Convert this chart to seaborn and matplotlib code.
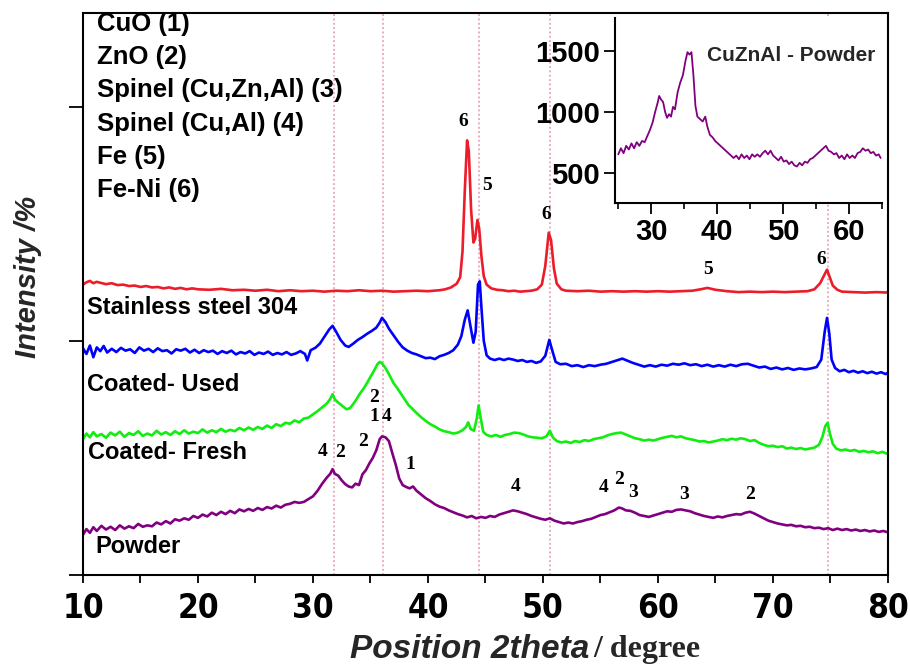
import numpy as np
import pandas as pd
import matplotlib
matplotlib.use("Agg")
import matplotlib.pyplot as plt
from matplotlib import font_manager
from matplotlib.ticker import MultipleLocator
import seaborn as sns

# ---------------------------------------------------------------- data
# Stainless steel 304 (stacked, intensity in %)
steel_x = [10.0, 10.3, 10.6, 10.9, 11.2, 11.5, 12.0, 12.5, 13.0, 13.5, 14.0, 14.5, 15.0, 15.5,
           16.0, 16.5, 17.0, 17.5, 18.0, 18.5, 19.0, 19.5, 20.0, 21, 22, 23, 24, 25, 26, 27, 28,
           29, 30, 31, 32, 33, 34, 35, 36, 37, 38, 39, 40, 41, 41.5, 42.0, 42.5, 42.8, 43.0,
           43.2, 43.4, 43.55, 43.75, 43.95, 44.1, 44.3, 44.45, 44.65, 44.85, 45.1, 45.5, 46.0,
           46.5, 47.0, 47.5, 48.0, 48.5, 49.0, 49.5, 49.9, 50.2, 50.5, 50.7, 50.95, 51.2, 51.6,
           52, 53, 54, 55, 56, 57, 58, 59, 60, 61, 62, 63, 63.7, 64.3, 65.0, 66, 67, 68, 69, 70,
           71, 72, 73, 73.6, 74.1, 74.45, 74.7, 74.95, 75.2, 75.6, 76, 77, 78, 79, 80]
steel_y = [62.0, 62.5, 62.8, 62.3, 62.6, 62.4, 62.1, 62.3, 61.9, 62.0, 61.7, 61.8, 61.5, 61.7,
           61.4, 61.5, 61.2, 61.4, 61.1, 61.3, 61.0, 61.2, 61.0, 60.9, 61.1, 60.8, 60.9, 60.7,
           60.9, 60.6, 60.8, 60.6, 60.7, 60.5, 60.7, 60.6, 60.8, 60.6, 60.7, 60.5, 60.6, 60.7,
           60.6, 60.8, 61.0, 61.4, 62.2, 63.6, 69.0, 82.0, 92.8, 90.5, 78.0, 71.0, 71.8, 75.8,
           74.0, 68.0, 63.8, 62.0, 61.2, 60.9, 60.8, 60.6, 60.7, 60.5, 60.6, 60.7, 61.0, 62.0,
           66.0, 73.1, 71.5, 65.5, 62.2, 61.0, 60.7, 60.6, 60.7, 60.5, 60.6, 60.5, 60.6, 60.5,
           60.6, 60.5, 60.6, 60.7, 61.0, 61.3, 60.9, 60.6, 60.4, 60.5, 60.4, 60.5, 60.4, 60.5,
           60.6, 61.0, 62.3, 64.0, 65.2, 63.5, 61.8, 60.9, 60.5, 60.4, 60.3, 60.4, 60.3]

# Coated - Used
used_x = [10.0, 10.3, 10.6, 10.9, 11.2, 11.5, 11.8, 12.1, 12.5, 12.9, 13.3, 13.7, 14.1, 14.5,
          14.9, 15.3, 15.7, 16.1, 16.5, 16.9, 17.3, 17.7, 18.1, 18.5, 18.9, 19.3, 19.7, 20.1,
          20.5, 20.9, 21.3, 21.7, 22.1, 22.5, 22.9, 23.3, 23.7, 24.1, 24.5, 24.9, 25.3, 25.7,
          26.1, 26.5, 26.9, 27.3, 27.7, 28.1, 28.5, 28.9, 29.3, 29.5, 29.8, 30.2, 30.6, 31.0,
          31.4, 31.7, 32.0, 32.4, 32.8, 33.1, 33.5, 33.9, 34.3, 34.7, 35.1, 35.5, 35.8, 36.0,
          36.3, 36.6, 37.0, 37.4, 37.8, 38.2, 38.6, 39.0, 39.4, 39.8, 40.2, 40.6, 41.0, 41.4,
          41.8, 42.2, 42.6, 42.9, 43.2, 43.45, 43.7, 43.95, 44.15, 44.35, 44.5, 44.65, 44.85,
          45.1, 45.4, 45.8, 46.2, 46.6, 47.0, 47.4, 47.8, 48.2, 48.6, 49.0, 49.4, 49.8, 50.2,
          50.55, 50.8, 51.1, 51.5, 52.0, 52.5, 53.0, 53.5, 54.0, 54.5, 55.0, 55.5, 56.0, 56.5,
          56.9, 57.3, 57.8, 58.3, 58.8, 59.3, 59.8, 60.3, 60.8, 61.3, 61.8, 62.3, 62.8, 63.3,
          63.8, 64.3, 64.8, 65.3, 65.8, 66.3, 66.8, 67.3, 67.8, 68.3, 68.8, 69.3, 69.8, 70.3,
          70.8, 71.3, 71.8, 72.3, 72.8, 73.3, 73.8, 74.2, 74.5, 74.7, 74.9, 75.1, 75.4, 75.8,
          76.2, 76.6, 77.0, 77.4, 77.8, 78.2, 78.6, 79.0, 79.4, 79.8, 80.0]
used_y = [48.4, 47.2, 49.0, 46.5, 48.6, 47.8, 48.9, 47.5, 48.3, 47.6, 48.5, 47.9, 48.2, 47.4,
          48.6, 47.9, 48.3, 47.6, 48.4, 47.8, 48.0, 47.3, 48.2, 47.9, 48.3, 47.5, 48.1, 47.4,
          48.0, 47.6, 47.9, 47.2, 47.8, 47.4, 47.9, 47.1, 47.6, 47.3, 47.8, 47.0, 47.5, 47.2,
          47.7, 47.0, 47.4, 47.1, 47.6, 47.0, 47.3, 47.8, 47.2, 45.8, 48.0, 48.5, 49.4, 50.9,
          52.4, 53.2, 52.0, 50.2, 49.0, 48.7, 49.4, 50.2, 50.8, 51.5, 52.1, 52.8, 53.9, 54.9,
          54.0, 52.6, 51.2, 49.8, 48.6, 47.9, 47.4, 47.1, 46.7, 46.3, 46.4, 46.1, 46.7, 47.0,
          47.4, 48.0, 49.2, 51.0, 54.5, 56.5, 53.0, 49.6, 52.0, 62.0, 62.7, 57.0, 50.0, 46.9,
          46.2, 45.9, 46.2, 45.9, 46.2, 46.0, 45.7, 45.9, 45.5, 45.7, 45.3, 45.6, 46.8, 50.2,
          48.0, 45.5, 45.0, 45.1, 44.6, 44.8, 44.4, 44.8, 44.6, 44.9, 45.1, 45.5, 45.9, 46.2,
          45.8, 45.3, 44.9, 44.5, 44.8, 44.5, 44.9, 44.7, 45.1, 44.9, 45.2, 44.8, 45.0, 44.6,
          44.9, 44.5, 44.8, 44.5, 44.9, 44.6, 45.0, 45.1, 44.7, 44.3, 44.5, 44.0, 44.3, 43.9,
          44.2, 43.8, 44.1, 43.9, 44.1, 44.4, 46.0, 52.0, 54.9, 51.5, 46.0, 44.2, 43.5, 43.8,
          43.3, 43.6, 43.2, 43.5, 43.1, 43.4, 43.0, 43.3, 42.9, 43.2]

# Coated - Fresh
fresh_x = [10.0, 10.3, 10.6, 10.9, 11.2, 11.6, 12.0, 12.4, 12.8, 13.2, 13.6, 14.0, 14.4, 14.8,
           15.2, 15.6, 16.0, 16.4, 16.8, 17.2, 17.6, 18.0, 18.4, 18.8, 19.2, 19.6, 20.0, 20.4,
           20.8, 21.2, 21.6, 22.0, 22.4, 22.8, 23.2, 23.6, 24.0, 24.4, 24.8, 25.2, 25.6, 26.0,
           26.4, 26.8, 27.2, 27.6, 28.0, 28.4, 28.8, 29.2, 29.6, 30.0, 30.4, 30.8, 31.2, 31.5,
           31.7, 31.9, 32.2, 32.6, 32.9, 33.2, 33.5, 33.8, 34.1, 34.4, 34.7, 35.0, 35.3, 35.6,
           35.8, 36.0, 36.3, 36.6, 37.0, 37.3, 37.6, 38.0, 38.3, 38.6, 39.0, 39.4, 39.8, 40.2,
           40.6, 41.0, 41.4, 41.8, 42.2, 42.6, 43.0, 43.3, 43.5, 43.7, 44.0, 44.25, 44.4, 44.55,
           44.8, 45.1, 45.5, 45.9, 46.3, 46.7, 47.1, 47.5, 47.9, 48.3, 48.7, 49.1, 49.5, 49.9,
           50.3, 50.6, 50.85, 51.2, 51.6, 52.0, 52.4, 52.8, 53.2, 53.6, 54.0, 54.4, 54.8, 55.2,
           55.6, 56.0, 56.4, 56.8, 57.2, 57.6, 58.0, 58.4, 58.8, 59.2, 59.6, 60.0, 60.4, 60.8,
           61.2, 61.6, 62.0, 62.4, 62.8, 63.2, 63.6, 64.0, 64.4, 64.8, 65.2, 65.6, 66.0, 66.4,
           66.8, 67.2, 67.6, 68.0, 68.4, 68.8, 69.2, 69.6, 70.0, 70.4, 70.8, 71.2, 71.6, 72.0,
           72.4, 72.8, 73.2, 73.6, 74.0, 74.3, 74.55, 74.75, 74.95, 75.2, 75.5, 75.9, 76.3, 76.7,
           77.1, 77.5, 77.9, 78.3, 78.7, 79.1, 79.5, 79.9, 80.0]
fresh_y = [29.0, 30.2, 29.4, 30.5, 29.6, 30.1, 29.3, 30.4, 29.8, 30.6, 29.5, 30.3, 29.9, 30.7,
           29.7, 30.2, 29.8, 30.8, 30.0, 30.5, 29.9, 30.7, 30.1, 30.9, 30.2, 30.6, 30.3, 31.1,
           30.4, 30.9, 30.5, 31.2, 30.6, 31.0, 30.7, 31.4, 30.9, 31.5, 31.0, 31.6, 31.2, 31.9,
           31.4, 32.2, 31.8, 32.5, 32.3, 33.0, 32.6, 33.4, 33.6, 34.3, 35.0, 35.8, 36.6, 37.6,
           38.6, 37.5, 36.8, 36.0, 35.4, 35.6, 36.5, 37.6, 38.8, 39.8, 41.0, 42.3, 43.6, 45.0,
           45.5, 45.2, 44.2, 42.9, 41.0, 40.0, 38.9, 37.4, 36.3, 35.6, 34.6, 33.7, 32.9, 32.2,
           31.7, 31.1, 30.7, 30.5, 30.2, 30.4, 30.9, 31.6, 32.6, 31.2, 30.8, 33.5, 36.2, 34.0,
           30.6, 29.9, 29.6, 29.9, 29.5, 29.9, 30.1, 30.4, 30.3, 30.0, 29.6, 29.4, 29.3, 29.2,
           29.6, 30.8, 29.4, 28.6, 28.3, 28.5, 28.2, 28.6, 28.4, 28.8, 28.6, 29.0, 29.2, 29.4,
           29.8, 30.1, 30.3, 30.4, 30.0, 29.6, 29.2, 29.0, 28.7, 28.9, 28.7, 29.0, 29.3, 29.5,
           29.7, 29.4, 29.6, 29.2, 29.0, 28.8, 28.5, 28.6, 28.3, 28.5, 28.7, 29.0, 28.8, 29.1,
           28.9, 29.2, 29.0, 28.6, 28.8, 28.2, 27.8, 27.5, 27.6, 27.3, 27.5, 27.0, 27.2, 26.9,
           27.1, 26.8, 27.0, 27.2, 27.8, 29.5, 31.8, 32.5, 30.2, 28.0, 27.0, 26.6, 26.8, 26.5,
           26.7, 26.3, 26.5, 26.2, 26.4, 26.0, 26.3, 25.9, 26.1]

# Powder
powder_x = [10.0, 10.3, 10.6, 10.9, 11.2, 11.6, 12.0, 12.4, 12.8, 13.2, 13.6, 14.0, 14.4, 14.8,
            15.2, 15.6, 16.0, 16.4, 16.8, 17.2, 17.6, 18.0, 18.4, 18.8, 19.2, 19.6, 20.0, 20.4,
            20.8, 21.2, 21.6, 22.0, 22.4, 22.8, 23.2, 23.6, 24.0, 24.4, 24.8, 25.2, 25.6, 26.0,
            26.4, 26.8, 27.2, 27.6, 28.0, 28.4, 28.8, 29.2, 29.6, 30.0, 30.4, 30.8, 31.2, 31.5,
            31.7, 31.9, 32.2, 32.5, 32.8, 33.1, 33.4, 33.7, 34.0, 34.3, 34.6, 34.9, 35.2, 35.5,
            35.8, 36.0, 36.3, 36.6, 36.9, 37.2, 37.5, 37.8, 38.1, 38.4, 38.7, 39.0, 39.4, 39.8,
            40.2, 40.6, 41.0, 41.4, 41.8, 42.2, 42.6, 43.0, 43.4, 43.8, 44.2, 44.6, 45.0, 45.4,
            45.8, 46.2, 46.6, 47.0, 47.4, 47.8, 48.2, 48.6, 49.0, 49.4, 49.8, 50.2, 50.6, 51.0,
            51.4, 51.8, 52.2, 52.6, 53.0, 53.4, 53.8, 54.2, 54.6, 55.0, 55.4, 55.8, 56.2, 56.6,
            56.9, 57.2, 57.6, 58.0, 58.4, 58.8, 59.2, 59.6, 60.0, 60.4, 60.8, 61.2, 61.6, 62.0,
            62.4, 62.8, 63.2, 63.6, 64.0, 64.4, 64.8, 65.2, 65.6, 66.0, 66.4, 66.8, 67.2, 67.6,
            68.0, 68.4, 68.8, 69.2, 69.6, 70.0, 70.4, 70.8, 71.2, 71.6, 72.0, 72.4, 72.8, 73.2,
            73.6, 74.0, 74.4, 74.8, 75.2, 75.6, 76.0, 76.4, 76.8, 77.2, 77.6, 78.0, 78.4, 78.8,
            79.2, 79.6, 80.0]
powder_y = [8.6, 9.8, 9.0, 10.2, 9.4, 10.5, 9.7, 10.3, 9.6, 10.6, 9.9, 10.4, 10.0, 10.9,
            10.3, 10.6, 10.4, 11.2, 10.8, 11.5, 11.0, 11.9, 11.6, 12.1, 11.8, 12.6, 12.2, 12.9,
            12.5, 13.3, 12.8, 13.5, 13.0, 13.7, 13.2, 14.0, 13.6, 14.1, 13.7, 14.3, 13.9, 14.5,
            14.2, 14.8, 14.4, 15.0, 15.2, 15.6, 15.4, 15.6, 16.2, 16.8, 18.0, 19.5, 20.8, 21.6,
            22.6, 21.6, 21.2, 20.2, 19.4, 18.9, 18.7, 19.5, 19.2, 21.5, 22.4, 23.8, 25.0, 26.6,
            29.0, 29.6, 29.4, 28.6, 26.0, 23.5, 20.6, 19.2, 18.8, 18.5, 18.9, 18.0, 17.2, 16.4,
            15.8, 15.1, 14.6, 14.3, 13.8, 13.4, 13.0, 12.7, 12.3, 12.6, 12.1, 12.4, 12.2, 12.6,
            12.4, 12.9, 13.2, 13.5, 13.8, 13.6, 13.3, 13.0, 12.6, 12.3, 12.0, 11.8, 12.1, 11.6,
            11.3, 11.0, 11.2, 11.0, 11.3, 11.5, 11.8, 12.0, 12.4, 12.8, 13.0, 13.4, 13.8, 14.4,
            14.2, 13.8, 13.7, 13.3, 12.8, 12.6, 12.4, 12.7, 13.0, 13.3, 13.6, 13.5, 13.9, 14.0,
            13.8, 13.6, 13.2, 12.9, 12.6, 12.4, 12.2, 12.5, 12.3, 12.6, 12.8, 13.0, 12.9, 13.3,
            13.5, 13.1, 12.6, 12.1, 11.6, 11.3, 11.0, 10.8, 10.6, 10.7, 10.4, 10.5, 10.2, 10.3,
            10.0, 10.1, 9.8, 10.0, 9.6, 9.9, 9.6, 9.8, 9.5, 9.7, 9.4, 9.6, 9.3, 9.5,
            9.2, 9.4, 9.1]

# CuZnAl powder, raw counts (inset)
raw_x = [25.0, 25.4, 25.8, 26.2, 26.6, 27.0, 27.4, 27.8, 28.2, 28.6, 29.0, 29.4, 29.8, 30.2,
         30.6, 31.0, 31.2, 31.5, 31.8, 32.1, 32.4, 32.7, 33.0, 33.3, 33.6, 34.0, 34.4, 34.8,
         35.2, 35.5, 35.8, 36.1, 36.4, 36.7, 37.0, 37.4, 37.8, 38.2, 38.5, 38.9, 39.3, 39.7,
         40.1, 40.5, 40.9, 41.3, 41.7, 42.1, 42.5, 42.9, 43.3, 43.7, 44.1, 44.5, 44.9, 45.3,
         45.7, 46.1, 46.5, 46.9, 47.3, 47.7, 48.1, 48.5, 48.9, 49.3, 49.7, 50.1, 50.5, 50.9,
         51.3, 51.7, 52.1, 52.5, 52.9, 53.3, 53.7, 54.1, 54.5, 54.9, 55.3, 55.7, 56.1, 56.5,
         56.9, 57.3, 57.7, 58.1, 58.5, 58.9, 59.3, 59.7, 60.1, 60.5, 60.9, 61.3, 61.7, 62.1,
         62.5, 62.9, 63.3, 63.7, 64.1, 64.5, 64.8]
raw_counts = [650, 700, 660, 720, 690, 740, 700, 750, 720, 760, 750, 800, 850, 910,
              1000, 1080, 1130, 1100, 1080, 1000, 950, 980, 960, 1040, 1020, 1160, 1240, 1300,
              1420, 1490, 1470, 1490, 1300, 1050, 960, 940, 920, 960, 880, 810, 790, 760,
              740, 720, 700, 680, 660, 640, 620, 640, 610, 650, 620, 640, 610, 650,
              630, 650, 630, 660, 680, 650, 680, 640, 620, 600, 630, 590, 600, 570,
              590, 560, 550, 580, 560, 590, 580, 610, 620, 640, 660, 680, 700, 720,
              680, 670, 650, 660, 620, 640, 610, 650, 620, 640, 620, 660, 670, 700,
              680, 690, 660, 670, 640, 650, 620]

samples = ["Stainless steel 304", "Coated- Used", "Coated- Fresh", "Powder"]
sample_colors = ["#ec1c2a", "#0000ff", "#10ee10", "#800080"]
reference_positions = [31.8, 36.1, 44.4, 50.6, 74.8]
phases = ["CuO (1)", "ZnO (2)", "Spinel (Cu,Zn,Al) (3)", "Spinel (Cu,Al) (4)",
          "Fe (5)", "Fe-Ni (6)"]
main_ticks = [10, 20, 30, 40, 50, 60, 70, 80]
inset_xticks = [30, 40, 50, 60]
inset_yticks = [500, 1000, 1500]

# ---------------------------------------------------------------- style
sns.set_theme(style="ticks")
plt.rcParams["font.family"] = ["Liberation Sans", "DejaVu Sans"]
plt.rcParams["axes.linewidth"] = 1.5


def narrow_bold(size):
    """Condensed bold face for the 2theta tick numbers, if one is installed."""
    for f in font_manager.fontManager.ttflist:
        fn = f.fname.replace("-", "").replace("_", "").lower()
        if "liberationsansnarrowbold" in fn and "italic" not in fn:
            return font_manager.FontProperties(fname=f.fname, size=size)
    for f in font_manager.fontManager.ttflist:
        fn = f.fname.replace("-", "").replace("_", "").lower()
        if "dejavusanscondensedbold" in fn and "oblique" not in fn:
            return font_manager.FontProperties(fname=f.fname, size=size)
    return font_manager.FontProperties(family="Liberation Sans", weight="bold", size=size)


df = pd.concat([
    pd.DataFrame({"two_theta": xs, "intensity": ys, "sample": name})
    for name, xs, ys in zip(samples, [steel_x, used_x, fresh_x, powder_x],
                            [steel_y, used_y, fresh_y, powder_y])
], ignore_index=True)

fig = plt.figure(figsize=(9.1, 6.7), dpi=100)
ax = fig.add_axes([0.0912, 0.1418, 0.8846, 0.8388])

for xr in reference_positions:
    ax.axvline(xr, color="#eba2b6", ls=(0, (1, 1.4)), lw=1.3, zorder=0.5)

sns.lineplot(data=df, x="two_theta", y="intensity", hue="sample",
             palette=dict(zip(samples, sample_colors)), estimator=None, sort=False,
             legend=False, lw=1.9, ax=ax, zorder=2)

ax.set_xlim(10, 80)
ax.set_ylim(0, 120)
ax.set_xticks(main_ticks)
ax.xaxis.set_minor_locator(MultipleLocator(5))
ax.set_yticks([0, 50, 100])
ax.set_yticklabels([])
ax.set_xlabel("")
ax.set_ylabel("")
for s in ax.spines.values():
    s.set_color("black")
    s.set_linewidth(1.5)
ax.tick_params(axis="x", which="both", direction="out", length=6, width=1.3, color="black",
               pad=6)
ax.tick_params(axis="y", which="major", direction="out", length=10, width=1.3, color="black")
tick_font = narrow_bold(24)
for lab in ax.get_xticklabels():
    lab.set_fontproperties(tick_font)
    lab.set_color("black")

# phase key
for i, txt in enumerate(phases):
    ax.text(11.2, 117.7 - i * 7.1, txt, fontsize=18.5, fontweight="bold", ha="left",
            va="center", color="black", clip_on=False)

# sample names
sample_label_pos = [(10.35, 57.1), (10.35, 40.6), (10.43, 26.1), (11.04, 6.0)]
for name, (lx, ly) in zip(samples, sample_label_pos):
    ax.text(lx, ly, name, fontsize=17, fontweight="bold", ha="left", va="center",
            color="black")

# reflection indices
peak_marks = [("6", 43.04, 96.8), ("5", 45.13, 83.1), ("6", 50.26, 76.9), ("5", 64.35, 65.2),
              ("6", 74.17, 67.3), ("2", 35.30, 38.0), ("1", 35.30, 33.8), ("4", 36.43, 33.8),
              ("4", 30.87, 26.3), ("2", 32.35, 26.1), ("2", 34.35, 28.4), ("1", 38.43, 23.5),
              ("4", 47.65, 18.8), ("4", 55.30, 18.6), ("2", 56.61, 20.3), ("3", 57.83, 17.7),
              ("3", 62.26, 17.1), ("2", 68.0, 17.1)]
for t, px, py in peak_marks:
    ax.text(px, py, t, fontsize=14, fontweight="bold", family="Liberation Serif",
            ha="center", va="center", color="black")

# axis titles
fig.text(0.648, 0.030, "Position 2theta", fontsize=24, fontweight="bold", style="italic",
         ha="right", va="center")
fig.text(0.652, 0.030, "/ degree", fontsize=23, fontweight="bold", family="Liberation Serif",
         ha="left", va="center")
fig.text(0.031, 0.587, "Intensity /%", fontsize=21, fontweight="bold", style="italic",
         rotation=90, ha="center", va="center")

# inset: raw counts of the powder
ins = fig.add_axes([0.6758, 0.697, 0.2934, 0.276])
ins.set_facecolor("white")
sns.lineplot(x=raw_x, y=raw_counts, color="#800080", lw=1.3, estimator=None, sort=False,
             ax=ins)
ins.set_xlim(24.5, 65)
ins.set_ylim(250, 1770)
ins.set_xticks(inset_xticks)
ins.xaxis.set_minor_locator(MultipleLocator(5))
ins.set_yticks(inset_yticks)
ins.spines["top"].set_visible(False)
ins.spines["right"].set_visible(False)
for s in ("left", "bottom"):
    ins.spines[s].set_color("black")
    ins.spines[s].set_linewidth(1.5)
ins.tick_params(which="major", direction="out", length=8, width=1.3, color="black", pad=3)
ins.tick_params(which="minor", direction="out", length=4, width=1.2, color="black")
for lab in ins.get_xticklabels() + ins.get_yticklabels():
    lab.set_fontweight("bold")
    lab.set_fontsize(21)
    lab.set_color("black")
ins.text(0.66, 0.80, "CuZnAl - Powder", transform=ins.transAxes, fontsize=15,
         fontweight="bold", ha="center", va="center")

fig.savefig("out.png", dpi=100, facecolor="white")
